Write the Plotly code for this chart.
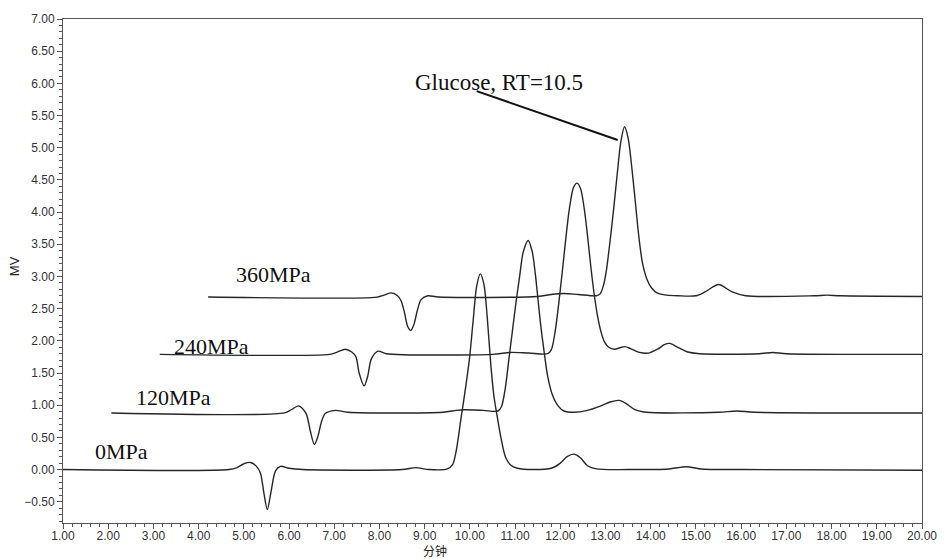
import plotly.graph_objects as go

# ---- data (retention time in min, signal in MV, as plotted) ----
x_0mpa = [1.00, 4.67, 4.85, 5.00, 5.15, 5.28, 5.37, 5.44, 5.52, 5.60, 5.70, 5.81, 6.00, 6.30,
          8.50, 8.80, 9.10, 9.50, 9.62, 9.70, 9.80, 9.90, 9.99, 10.07, 10.15, 10.23, 10.31, 10.38,
          10.46, 10.53, 10.61, 10.70, 10.79, 10.90, 11.05, 11.40, 11.80, 12.00, 12.15, 12.30, 12.45,
          12.60, 12.80, 13.50, 14.40, 14.79, 15.10, 16.00, 20.00]
y_0mpa = [0.00, 0.00, 0.03, 0.09, 0.11, 0.05, -0.06, -0.35, -0.62, -0.35, -0.02, 0.05, 0.02, 0.00,
          0.00, 0.03, 0.00, 0.01, 0.08, 0.30, 0.78, 1.25, 1.72, 2.30, 2.85, 3.04, 2.88, 2.40,
          1.65, 1.15, 0.80, 0.45, 0.19, 0.07, 0.02, 0.00, 0.02, 0.10, 0.20, 0.24, 0.18,
          0.06, 0.01, 0.00, 0.01, 0.045, 0.01, 0.00, -0.01]

x_120mpa = [2.07, 5.90, 6.05, 6.21, 6.32, 6.39, 6.47, 6.56, 6.64, 6.72, 6.80, 7.02, 7.30, 9.40,
            9.70, 9.88, 10.30, 10.62, 10.70, 10.78, 10.86, 10.94, 11.02, 11.10, 11.18, 11.29,
            11.38, 11.45, 11.51, 11.57, 11.64, 11.72, 11.82, 11.95, 12.08, 12.30, 12.60, 12.90,
            13.10, 13.30, 13.45, 13.65, 13.90, 15.50, 15.90, 16.30, 20.00]
y_120mpa = [0.88, 0.88, 0.93, 0.99, 0.93, 0.85, 0.60, 0.39, 0.52, 0.75, 0.87, 0.92, 0.89, 0.89,
            0.92, 0.93, 0.92, 0.91, 0.98, 1.25, 1.70, 2.15, 2.60, 3.00, 3.38, 3.56,
            3.38, 3.02, 2.62, 2.22, 1.84, 1.45, 1.17, 0.99, 0.91, 0.89, 0.92, 0.99,
            1.05, 1.075, 1.03, 0.93, 0.89, 0.89, 0.91, 0.89, 0.88]

x_240mpa = [3.14, 6.90, 7.05, 7.24, 7.38, 7.48, 7.55, 7.66, 7.74, 7.82, 7.97, 8.15, 10.50,
            10.90, 11.30, 11.72, 11.80, 11.88, 11.96, 12.04, 12.12, 12.20, 12.29, 12.37, 12.45,
            12.53, 12.61, 12.68, 12.75, 12.82, 12.90, 12.98, 13.07, 13.20, 13.35, 13.43, 13.55,
            13.75, 13.95, 14.15, 14.30, 14.42, 14.60, 14.80, 15.08, 16.40, 16.70, 17.00, 20.00]
y_240mpa = [1.79, 1.79, 1.82, 1.87, 1.83, 1.75, 1.50, 1.30, 1.45, 1.72, 1.84, 1.80, 1.79,
            1.82, 1.81, 1.80, 1.86, 2.12, 2.55, 3.05, 3.58, 4.05, 4.38, 4.45, 4.36,
            4.05, 3.58, 3.12, 2.72, 2.40, 2.14, 1.98, 1.90, 1.87, 1.90, 1.91, 1.88,
            1.82, 1.81, 1.87, 1.94, 1.96, 1.90, 1.83, 1.80, 1.80, 1.82, 1.80, 1.79]

x_360mpa = [4.21, 7.95, 8.10, 8.26, 8.40, 8.48, 8.55, 8.62, 8.69, 8.76, 8.84, 8.92, 9.07, 9.30,
            11.50, 11.80, 12.08, 12.40, 12.80, 12.88, 12.95, 13.02, 13.10, 13.18, 13.26, 13.34,
            13.42, 13.50, 13.58, 13.66, 13.74, 13.82, 13.92, 14.02, 14.15, 14.35, 14.60, 15.00,
            15.20, 15.50, 15.80, 16.10, 17.60, 17.90, 18.20, 20.00]
y_360mpa = [2.68, 2.68, 2.71, 2.745, 2.70, 2.62, 2.45, 2.23, 2.16, 2.25, 2.48, 2.64, 2.70, 2.68,
            2.69, 2.72, 2.735, 2.72, 2.70, 2.73, 2.85, 3.10, 3.55, 4.05, 4.60, 5.10,
            5.325, 5.15, 4.70, 4.15, 3.60, 3.20, 2.95, 2.82, 2.74, 2.71, 2.70, 2.70,
            2.76, 2.875, 2.76, 2.70, 2.70, 2.71, 2.70, 2.69]

series_x = [x_0mpa, x_120mpa, x_240mpa, x_360mpa]
series_y = [y_0mpa, y_120mpa, y_240mpa, y_360mpa]
series_names = ["0MPa", "120MPa", "240MPa", "360MPa"]

# label anchor positions (data coords) for the pressure labels
label_x = [1.66, 2.58, 3.40, 4.78]
label_y = [0.28, 1.12, 1.91, 3.03]

glucose_label = "Glucose, RT=10.5"
x_title = "分钟"
y_title = "MV"

fig = go.Figure()
for xs, ys, nm in zip(series_x, series_y, series_names):
    fig.add_trace(go.Scatter(x=xs, y=ys, mode="lines", name=nm,
                             line=dict(color="#262626", width=1.4, shape="spline", smoothing=0.8),
                             showlegend=False, hoverinfo="skip"))

for nm, lx, ly in zip(series_names, label_x, label_y):
    fig.add_annotation(x=lx, y=ly, text=nm, showarrow=False, xanchor="left", yanchor="middle",
                       font=dict(family="Liberation Serif, Times New Roman, serif", size=22, color="#111"))

fig.add_annotation(x=8.74, y=6.01, text=glucose_label, showarrow=False, xanchor="left", yanchor="middle",
                   font=dict(family="Liberation Serif, Times New Roman, serif", size=23, color="#111"))
fig.add_shape(type="line", x0=10.15, y0=5.88, x1=13.27, y1=5.12,
              line=dict(color="#111", width=2))

fig.add_annotation(xref="paper", yref="paper", x=-0.0556, y=0.51, text=y_title, textangle=-90,
                   showarrow=False, xanchor="center", yanchor="middle",
                   font=dict(family="Liberation Sans, Arial, sans-serif", size=13, color="#222"))
fig.add_annotation(xref="paper", yref="paper", x=0.433, y=-0.055, text=x_title,
                   showarrow=False, xanchor="center", yanchor="middle",
                   font=dict(family="Noto Sans CJK SC, sans-serif", size=12, color="#222"))

axis_common = dict(showgrid=False, zeroline=False, showline=True, linecolor="#555", linewidth=1,
                   mirror=True, ticks="outside", ticklen=5, tickwidth=1, tickcolor="#555",
                   tickformat=".2f",
                   tickfont=dict(family="Liberation Sans, Arial, sans-serif", size=12, color="#333"))

fig.update_xaxes(range=[1, 20], dtick=1, tick0=1, ticklabelstandoff=-3,
                 minor=dict(ticks="outside", ticklen=3, dtick=0.2, tick0=1, tickcolor="#555"),
                 **axis_common)
fig.update_yaxes(range=[-0.83, 7.0], dtick=0.5, tick0=0,
                 minor=dict(ticks="outside", ticklen=3, dtick=0.1, tick0=0, tickcolor="#555"),
                 **axis_common)

fig.update_layout(width=949, height=559, margin=dict(l=63, r=22, t=17, b=36),
                  plot_bgcolor="white", paper_bgcolor="white")

fig.write_html("out.html", config={"displayModeBar": False, "staticPlot": True})

# remove the default page margin so the figure sits at the window's top-left corner
with open("out.html", "r", encoding="utf-8") as f:
    html = f.read()
html = html.replace("<body>", '<body style="margin:0;padding:0;overflow:hidden;">', 1)
with open("out.html", "w", encoding="utf-8") as f:
    f.write(html)
